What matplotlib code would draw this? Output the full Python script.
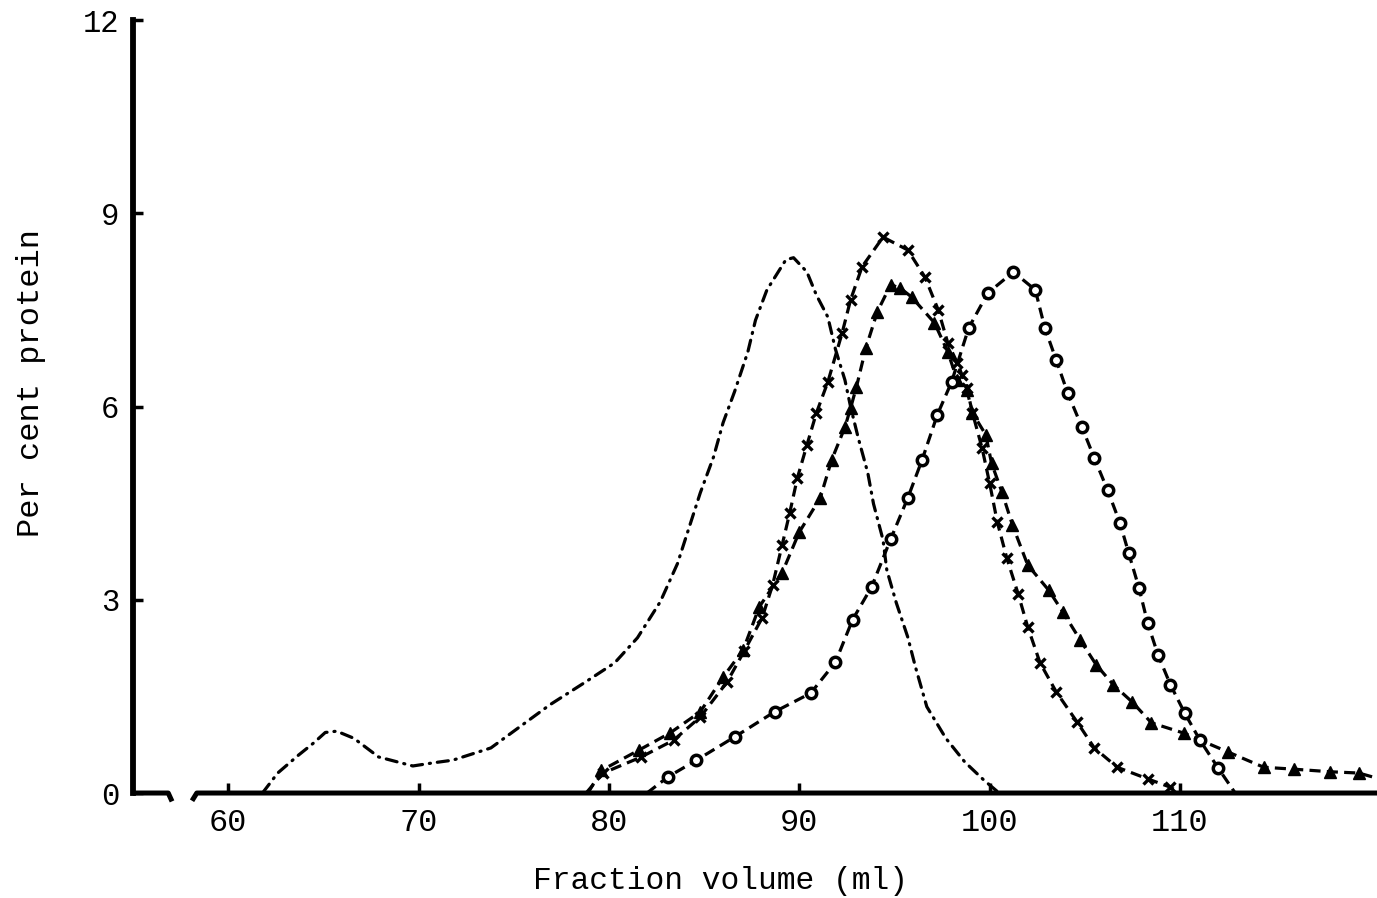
import numpy as np
import matplotlib
matplotlib.use("Agg")
import matplotlib.pyplot as plt

plt.rcParams['font.family'] = ['Liberation Mono', 'DejaVu Sans Mono']
plt.rcParams['lines.scale_dashes'] = False

# fraction volume (ml) vs per cent protein
dashdot_x = [61.8, 62.6, 63.7, 64.5, 65.1, 65.7, 66.6, 67.9, 69.7, 70.8, 71.8, 73.8,
             76.9, 78.7, 80.3, 81.5, 82.7, 83.6, 84.8, 85.5, 86.0, 86.6, 87.3, 87.7,
             88.3, 89.3, 89.7, 90.4, 90.9, 91.5, 91.9, 92.4, 92.7, 93.1, 93.6, 93.9,
             94.4, 94.6, 95.1, 95.7, 96.1, 96.7, 97.7, 98.7, 99.7, 100.5]
dashdot_y = [0.0, 0.31, 0.59, 0.78, 0.94, 0.96, 0.85, 0.56, 0.42, 0.47, 0.51, 0.70,
             1.37, 1.71, 2.02, 2.41, 2.97, 3.56, 4.66, 5.22, 5.75, 6.23, 6.85, 7.34,
             7.81, 8.28, 8.31, 8.09, 7.73, 7.39, 6.89, 6.41, 5.99, 5.51, 4.97, 4.49,
             3.93, 3.46, 2.95, 2.42, 1.96, 1.34, 0.85, 0.48, 0.20, 0.0]

cross_x = [78.8, 79.7, 81.7, 83.4, 84.8, 86.2, 87.1, 88.05, 88.6, 89.1, 89.5, 89.9,
           90.4, 90.9, 91.5, 92.25, 92.7, 93.3, 94.4, 95.7, 96.6, 97.3, 97.8, 98.3,
           98.55, 98.8, 99.1, 99.6, 100.0, 100.4, 100.9, 101.5, 102.0, 102.65, 103.5,
           104.6, 105.5, 106.7, 108.3, 109.5, 110.0]
cross_y = [0.0, 0.31, 0.56, 0.82, 1.18, 1.72, 2.2, 2.72, 3.23, 3.85, 4.35, 4.89,
           5.40, 5.90, 6.38, 7.14, 7.66, 8.17, 8.63, 8.43, 8.01, 7.50, 6.99, 6.68,
           6.49, 6.29, 5.90, 5.36, 4.81, 4.21, 3.65, 3.09, 2.58, 2.02, 1.57,
           1.10, 0.70, 0.40, 0.22, 0.09, 0.0]

tri_x = [78.9, 79.6, 81.6, 83.2, 84.8, 86.0, 87.05, 87.9, 89.1, 90.0, 91.1, 91.7,
         92.4, 92.7, 93.0, 93.5, 94.1, 94.8, 95.3, 95.9, 97.1, 97.8, 98.3, 98.8,
         99.1, 99.8, 100.1, 100.65, 101.2, 102.0, 103.1, 103.85, 104.75, 105.6,
         106.5, 107.5, 108.5, 110.2, 112.5, 114.4, 116.0, 117.9, 119.4, 120.35]
tri_y = [0.0, 0.35, 0.67, 0.93, 1.26, 1.80, 2.22, 2.89, 3.42, 4.05, 4.58, 5.17,
         5.68, 5.98, 6.30, 6.91, 7.47, 7.89, 7.84, 7.70, 7.30, 6.85, 6.41, 6.26,
         5.90, 5.56, 5.12, 4.67, 4.16, 3.54, 3.15, 2.81, 2.38, 1.99,
         1.68, 1.41, 1.09, 0.93, 0.64, 0.40, 0.37, 0.33, 0.31, 0.23]

circ_x = [82.0, 83.1, 84.6, 86.6, 88.7, 90.6, 91.9, 92.8, 93.8, 94.8, 95.7, 96.45,
          97.25, 98.0, 98.9, 99.9, 101.25, 102.4, 102.9, 103.5, 104.1, 104.85, 105.5,
          106.2, 106.85, 107.3, 107.85, 108.3, 108.85, 109.5, 110.25, 111.05, 112.0,
          112.9]
circ_y = [0.0, 0.25, 0.51, 0.87, 1.26, 1.55, 2.03, 2.69, 3.20, 3.94, 4.58, 5.17,
          5.87, 6.38, 7.22, 7.76, 8.09, 7.81, 7.22, 6.72, 6.21, 5.68, 5.20,
          4.70, 4.19, 3.73, 3.18, 2.64, 2.14, 1.68, 1.24, 0.82, 0.39,
          0.0]

x_ticks = [60, 70, 80, 90, 100, 110]
y_ticks = [0, 3, 6, 9, 12]

fig = plt.figure(figsize=(13.77, 8.98), dpi=100)
ax = fig.add_axes([0.0966, 0.1169, 0.9034, 0.8608])

lw = 2.3
dash = (8, 4.5)

l1, = ax.plot(dashdot_x, dashdot_y, color='black', lw=lw, dash_capstyle='round')
l1.set_dashes((8, 5, 0.8, 5))

l2, = ax.plot(cross_x, cross_y, color='black', lw=lw, marker='x', ms=7, mew=2.4,
              markevery=slice(1, -1))
l2.set_dashes(dash)

l3, = ax.plot(tri_x, tri_y, color='black', lw=lw, marker='^', ms=8.5,
              markevery=slice(1, -1))
l3.set_dashes(dash)

l4, = ax.plot(circ_x, circ_y, color='black', lw=lw, marker='o', ms=7.5, mew=2.5,
              mfc='white', markevery=slice(1, -1))
l4.set_dashes(dash)

ax.set_xlim(55, 120.35)
ax.set_ylim(0, 12)

# axes: thick left spine, broken x axis drawn by hand
for s in ['top', 'right', 'bottom']:
    ax.spines[s].set_visible(False)
ax.spines['left'].set_linewidth(4.2)
ax.plot([55, 56.85, 57.05], [0, 0, -0.13], color='black', lw=3.6,
        clip_on=False, solid_capstyle='butt', solid_joinstyle='round')
ax.plot([58.1, 58.35, 120.35], [-0.12, 0, 0], color='black', lw=3.6,
        clip_on=False, solid_capstyle='butt', solid_joinstyle='round')

ax.set_xticks(x_ticks)
ax.set_yticks(y_ticks)
ax.tick_params(axis='both', direction='in', length=7, width=2.5)
ax.tick_params(axis='x', pad=11, labelsize=23)
ax.tick_params(axis='y', pad=10, labelsize=22)

ax.set_xlabel('Fraction volume (ml)', fontsize=22.5)
ax.xaxis.set_label_coords(0.472, -0.095)
ax.set_ylabel('Per cent protein', fontsize=23)
ax.yaxis.set_label_coords(-0.07, 0.53)

fig.savefig('out.png', dpi=100)
